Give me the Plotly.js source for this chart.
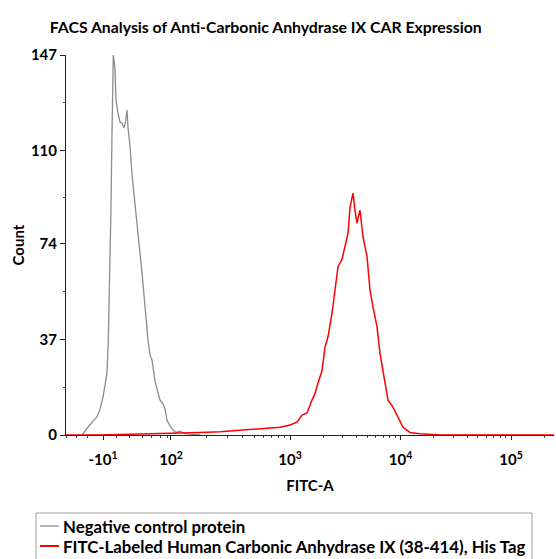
<!DOCTYPE html>
<html>
<head>
<meta charset="utf-8">
<script src="https://cdn.plot.ly/plotly-3.0.1.min.js"></script>
<style>html,body{margin:0;padding:0;background:#fff;}#chart{width:556px;height:559px;}</style>
</head>
<body>
<div id="chart"></div>
<script>
// x positions are on the display (biexponential) axis, in decade units: 10^3 -> 3, 10^4 -> 4, 10^5 -> 5
const negPos = [1.118,1.163,1.208,1.253,1.281,1.308,1.326,1.344,1.356,1.362,1.371,1.380,1.389,1.395,1.401,1.416,1.425,1.443,1.462,1.480,1.498,1.511,1.525,1.534,1.552,1.570,1.597,1.624,1.661,1.688,1.715,1.733,1.751,1.778,1.805,1.824,1.851,1.869,1.887,1.914,1.941,1.968,2.005,2.050,2.095,2.186];
const negCount = [0,2.7,5,7,10,14.7,19,24,36.7,48,62.7,88,116,133,147,142,130,124.5,121,120.7,118.8,121,125.7,119,112,101,88,78,62.7,49.5,36.7,31,29,21,16,13.5,12,10,5.8,3.5,2,1,1.5,0.5,0.3,0];

const carPos = [0.973,1.281,1.552,1.824,2.005,2.186,2.367,2.548,2.683,2.819,2.910,3.000,3.063,3.109,3.154,3.199,3.226,3.253,3.290,3.317,3.344,3.380,3.407,3.434,3.471,3.498,3.525,3.543,3.570,3.588,3.606,3.633,3.661,3.697,3.724,3.751,3.787,3.814,3.842,3.887,3.932,3.977,4.023,4.086,4.176,4.357,5.389];
const carCount = [0,0,0.3,0.5,0.8,1,1.3,1.8,2.2,2.7,3,3.9,5,7.7,8.5,13.5,16,20,25,34,38,47,56,65,68,73,78,88,93.6,87,82,87,76.6,69,56,49.5,42,31.7,24,13.5,10.8,7,3,1,0.5,0,0];

const xTickPos = [1.308,1.923,3,4,5];
const xTickText = ['-10<sup>1</sup>','10<sup>2</sup>','10<sup>3</sup>','10<sup>4</sup>','10<sup>5</sup>'];
const yTickVals = [0,37,74,110,147];
const yMinorVals = [18.5,55.5,92,128.5];
const linearMinorPos = [0.982,1.072,1.172,1.434,1.552,1.661,1.751,1.824,1.887];

const seriesNames = ['Negative control protein','FITC-Labeled Human Carbonic Anhydrase IX (38-414), His Tag'];
const seriesColors = ['#8c8c8c','#ff0000'];

// minor log ticks
const xMinor = linearMinorPos.slice();
const dec2 = 1.923, dec3 = 3;
for (let k = 2; k <= 9; k++) xMinor.push(dec2 + (dec3 - dec2) * Math.log10(k));
for (let d = 3; d <= 5; d++) for (let k = 2; k <= 9; k++) {
  const p = d + Math.log10(k);
  if (p < 5.39) xMinor.push(p);
}

const FONT = 'Lato, "Open Sans", sans-serif';

const data = [
  {x: negPos, y: negCount, type: 'scatter', mode: 'lines', name: seriesNames[0],
   line: {color: seriesColors[0], width: 1.3}},
  {x: carPos, y: carCount, type: 'scatter', mode: 'lines', name: seriesNames[1],
   line: {color: seriesColors[1], width: 1.5}}
];

// hand-built legend (paper coordinates relative to the plot area)
const W = 488, H = 380, L = 66, B = 435;
const px = v => (v - L) / W;
const py = v => (B - v) / H;
const legRows = [526, 546];
const shapes = [
  {type: 'rect', xref: 'paper', yref: 'paper', x0: px(36), x1: px(532), y0: py(513), y1: py(575),
   line: {color: '#a0a0a0', width: 1}, fillcolor: 'rgba(0,0,0,0)'}
];
const annotations = [];
seriesNames.forEach((n, i) => {
  shapes.push({type: 'line', xref: 'paper', yref: 'paper', x0: px(40), x1: px(59), y0: py(legRows[i]), y1: py(legRows[i]),
               line: {color: seriesColors[i], width: i === 0 ? 1.3 : 2}});
  annotations.push({xref: 'paper', yref: 'paper', x: px(61), y: py(legRows[i]), xanchor: 'left', yanchor: 'middle',
                    showarrow: false, text: n, font: {family: FONT, size: 16.8, weight: 'bold', color: '#000'}});
});

const layout = {
  width: 556, height: 559,
  margin: {l: 66, r: 2, t: 55, b: 124},
  paper_bgcolor: '#fff', plot_bgcolor: '#fff',
  font: {family: FONT, color: '#000'},
  title: {text: 'FACS Analysis of Anti-Carbonic Anhydrase IX CAR Expression',
          font: {family: FONT, size: 15.8, weight: 'bold', color: '#000'},
          xref: 'container', yref: 'container', x: 0.478, xanchor: 'center', y: 0.95, yanchor: 'middle'},
  xaxis: {
    range: [0.973, 5.389], showgrid: false, zeroline: false,
    showline: true, linecolor: '#222', linewidth: 1,
    tickmode: 'array', tickvals: xTickPos, ticktext: xTickText,
    ticks: 'outside', ticklen: 4, tickcolor: '#222', ticklabelstandoff: 7,
    tickfont: {family: FONT, size: 15, weight: 'bold', color: '#000'},
    minor: {tickmode: 'array', tickvals: xMinor, ticks: 'outside', ticklen: 2, tickcolor: '#444'},
    title: {text: 'FITC-A', font: {family: FONT, size: 15, weight: 'bold', color: '#000'}, standoff: 13},
    fixedrange: true
  },
  yaxis: {
    range: [0, 147], showgrid: false, zeroline: false,
    showline: true, linecolor: '#222', linewidth: 1,
    tickmode: 'array', tickvals: yTickVals,
    ticks: 'outside', ticklen: 5, tickcolor: '#222',
    tickfont: {family: FONT, size: 15, weight: 'bold', color: '#000'},
    minor: {tickmode: 'array', tickvals: yMinorVals, ticks: 'outside', ticklen: 2, tickcolor: '#444'},
    title: {text: 'Count', font: {family: FONT, size: 15, weight: 'bold', color: '#000'}, standoff: 2},
    fixedrange: true
  },
  showlegend: false,
  shapes: shapes,
  annotations: annotations
};

Plotly.newPlot('chart', data, layout, {displayModeBar: false, staticPlot: true});
</script>
</body>
</html>
